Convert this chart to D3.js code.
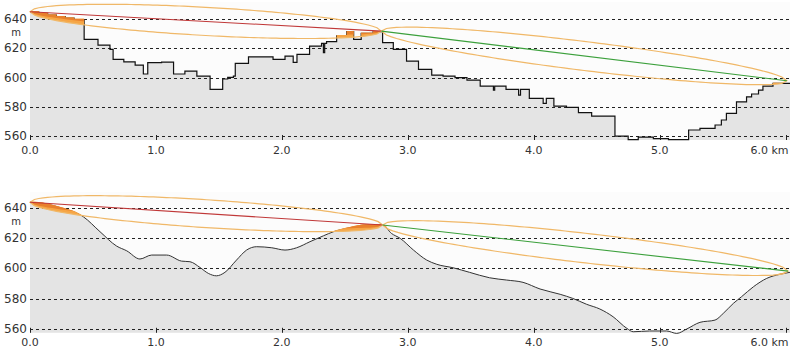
<!DOCTYPE html>
<meta charset="utf-8">
<script src="https://d3js.org/d3.v7.min.js"></script>
<style>
  body { margin: 0; background: #fff; }
  text { font-family: "DejaVu Sans", Verdana, sans-serif; fill: #333; }
</style>
<div id="chart"></div>
<script>
  // tick values
  var kmTicks = [0, 1, 2, 3, 4, 5, 6];
  var elevTicks = [560, 580, 600, 620, 640];

  // raw (stepped) terrain profile, km / m
  var stepKm = [0, 0.07, 0.14, 0.21, 0.28, 0.35, 0.43, 0.54, 0.635, 0.66, 0.745, 0.835, 0.90, 0.935, 1.045,
    1.14, 1.23, 1.325, 1.43, 1.53, 1.57, 1.615, 1.63, 1.735, 1.93, 2.025, 2.09, 2.12, 2.22, 2.315, 2.33,
    2.34, 2.355, 2.435, 2.515, 2.57, 2.63, 2.725, 2.80, 2.885, 2.99, 3.085, 3.19, 3.28, 3.375, 3.47,
    3.575, 3.68, 3.69, 3.78, 3.88, 3.895, 3.965, 4.075, 4.10, 4.16, 4.26, 4.355, 4.46, 4.645, 4.75,
    4.83, 4.95, 5.07, 5.23, 5.32, 5.44, 5.49, 5.53, 5.61, 5.69, 5.73, 5.785, 5.82, 5.9, 6.035];
  var stepElev = [644.6, 643.6, 642.5, 641.4, 640.4, 639.5, 626.0, 622.1, 619.2, 612.4, 610.7, 608.5, 602.4, 610.1, 610.5,
    602.4, 604.4, 601.0, 592.0, 599.0, 600.1, 601.0, 609.6, 614.1, 612.4, 614.6, 610.3, 615.8, 621.4, 623.3, 616.9,
    623.3, 624.4, 628.4, 631.2, 626.0, 630.0, 631.2, 623.7, 619.2, 611.2, 605.6, 601.7, 601.0, 599.9, 598.3,
    594.2, 591.5, 594.2, 592.0, 588.1, 592.0, 585.8, 582.4, 585.8, 580.6, 579.7, 576.1, 573.8, 560.2, 557.8,
    559.5, 558.5, 557.8, 564.3, 565.4, 567.7, 571.1, 575.6, 583.5, 586.9, 588.8, 591.5, 594.2, 596.0, 596.0];

  // smoothed terrain profile
  var smoothKm = [0, 0.135, 0.25, 0.423, 0.556, 0.688, 0.768, 0.873, 0.966, 1.085, 1.204, 1.27, 1.35, 1.416, 1.48, 1.548,
    1.64, 1.72, 1.80, 1.92, 2.025, 2.117, 2.223, 2.33, 2.41, 2.54, 2.67, 2.80, 2.87, 2.94, 3.045, 3.15,
    3.23, 3.36, 3.49, 3.65, 3.785, 3.915, 4.05, 4.21, 4.31, 4.42, 4.525, 4.63, 4.74, 4.79, 4.92, 5.055,
    5.135, 5.215, 5.32, 5.44, 5.505, 5.585, 5.65, 5.745, 5.85, 5.955, 6.035];
  var smoothElev = [643.6, 642.4, 639.8, 634.1, 624.2, 614.7, 611.6, 606.2, 608.8, 608.8, 604.8, 604.4, 600.6, 596.7, 595.1, 597.4,
    605.5, 612.1, 614.3, 613.6, 612.1, 613.6, 617.6, 621.5, 624.2, 626.8, 628.6, 628.8, 623.1, 619.8, 612.1, 605.5,
    602.7, 600.4, 597.4, 593.8, 592.3, 590.8, 586.4, 582.9, 580.2, 576.3, 573.2, 568.1, 560.4, 558.2, 558.7, 558.7,
    557.1, 560.0, 564.4, 565.9, 570.3, 576.9, 581.3, 587.9, 593.4, 596.1, 597.4];

  // radio link: antenna points (km, m) and Fresnel radius of each hop (m)
  var topHopKm = [0, 2.79, 6.01];
  var topHopElev = [644.8, 631.6, 597.8];
  var topFresnel = [9.6, 9.9];
  var bottomHopKm = [0, 2.80, 6.02];
  var bottomHopElev = [643.6, 628.6, 598.2];
  var bottomFresnel = [9.2, 9.8];

  var hopColors = ["#c03838", "#3ca03c"];

  var W = 800, H = 364;
  var svg = d3.select("#chart").append("svg")
      .attr("width", W)
      .attr("height", H);

  function zip(a, b) {
    return a.map(function (d, i) { return [d, b[i]]; });
  }

  function drawPanel(id, top, bottom, yDomain, profile, curve, hopKm, hopElev, fresnel, lineColor, lineWidth) {
    var x = d3.scaleLinear().domain([0, 6.035]).range([30, 790]);
    var y = d3.scaleLinear().domain(yDomain).range([bottom, top]);
    var g = svg.append("g");

    g.append("rect")
        .attr("x", x(0)).attr("y", top)
        .attr("width", x(6.035) - x(0)).attr("height", bottom - top)
        .attr("fill", "#fcfcfc");

    var area = d3.area()
        .x(function (d) { return x(d[0]); })
        .y0(bottom)
        .y1(function (d) { return y(d[1]); })
        .curve(curve);

    g.append("path")
        .datum(profile)
        .attr("d", area)
        .attr("fill", "#e4e4e4");

    var line = d3.line()
        .x(function (d) { return x(d[0]); })
        .y(function (d) { return y(d[1]); });

    // Fresnel ellipse outline for one hop, scaled by factor k
    function ellipse(i, k) {
      var k0 = hopKm[i], k1 = hopKm[i + 1], e0 = hopElev[i], e1 = hopElev[i + 1];
      var up = [], lo = [];
      for (var s = 0; s <= 80; s++) {
        var t = s / 80;
        var h = 2 * fresnel[i] * k * Math.sqrt(t * (1 - t));
        up.push([k0 + t * (k1 - k0), e0 + t * (e1 - e0) + h]);
        lo.push([k0 + t * (k1 - k0), e0 + t * (e1 - e0) - h]);
      }
      return line(up.concat(lo.reverse())) + "Z";
    }

    // grid
    g.selectAll(".grid")
        .data(elevTicks)
        .enter()
        .append("line")
        .attr("x1", x(0)).attr("x2", 790)
        .attr("y1", function (d) { return Math.round(y(d)) + 0.5; })
        .attr("y2", function (d) { return Math.round(y(d)) + 0.5; })
        .attr("stroke", "#222")
        .attr("stroke-dasharray", "3,3");

    // terrain line
    g.append("path")
        .datum(profile)
        .attr("d", line.curve(curve))
        .attr("fill", "none")
        .attr("stroke", lineColor)
        .attr("stroke-width", lineWidth);
    line.curve(d3.curveLinear);

    // terrain inside the Fresnel zones (drawn over the line)
    var band = d3.area()
        .x(function (d) { return x(d[0]); })
        .y0(bottom)
        .y1(function (d) { return y(d[1]) - 0.7; })
        .curve(curve);
    [0, 1].forEach(function (i) {
      [[1, "#f6a545"], [0.65, "#e8802c"]].forEach(function (f, j) {
        var cid = id + "-clip" + i + "-" + j;
        g.append("clipPath").attr("id", cid)
          .append("path").attr("d", ellipse(i, f[0]));
        g.append("path")
            .datum(profile)
            .attr("d", band)
            .attr("fill", f[1])
            .attr("clip-path", "url(#" + cid + ")");
      });
    });

    // ellipses and line of sight
    [0, 1].forEach(function (i) {
      g.append("path")
          .attr("d", ellipse(i, 1))
          .attr("fill", "none")
          .attr("stroke", "#f0b868")
          .attr("stroke-width", 1.2);
      g.append("path")
          .datum([[hopKm[i], hopElev[i]], [hopKm[i + 1], hopElev[i + 1]]])
          .attr("d", line)
          .attr("fill", "none")
          .attr("stroke", hopColors[i])
          .attr("stroke-width", 1.1);
    });

    // x ticks and labels
    g.selectAll(".xt")
        .data(kmTicks)
        .enter()
        .append("line")
        .attr("x1", function (d) { return Math.round(x(d)) + 0.5; })
        .attr("x2", function (d) { return Math.round(x(d)) + 0.5; })
        .attr("y1", bottom)
        .attr("y2", bottom - 5)
        .attr("stroke", "#222");

    g.selectAll(".xl")
        .data(kmTicks)
        .enter()
        .append("text")
        .attr("x", function (d) { return d === 6 ? x(d) + 3 : x(d); })
        .attr("y", bottom + 13.5)
        .attr("text-anchor", function (d) { return d === 6 ? "end" : "middle"; })
        .style("font-size", "11px")
        .text(function (d) { return d.toFixed(1) + (d === 6 ? " km" : ""); });

    g.selectAll(".yl")
        .data(elevTicks)
        .enter()
        .append("text")
        .attr("x", 27)
        .attr("y", function (d) { return y(d) + 4; })
        .attr("text-anchor", "end")
        .style("font-size", "12px")
        .text(function (d) { return d; });

    g.append("text")
        .attr("x", 16)
        .attr("y", y(640) + 17)
        .attr("text-anchor", "middle")
        .style("font-size", "10px")
        .text("m");
  }

  drawPanel("top", 2, 140, [557.5, 651.4], zip(stepKm, stepElev), d3.curveStepAfter,
      topHopKm, topHopElev, topFresnel, "#111", 1.2);
  drawPanel("bot", 192, 332.8, [557.5, 650.4], zip(smoothKm, smoothElev), d3.curveMonotoneX,
      bottomHopKm, bottomHopElev, bottomFresnel, "#333", 1);
</script>
